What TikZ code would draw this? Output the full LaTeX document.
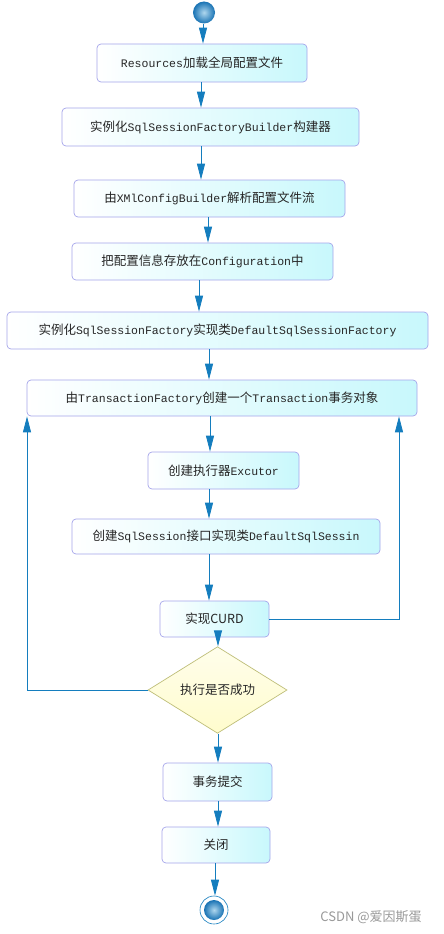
\documentclass[tikz,border=0pt]{standalone}
\usepackage{fontspec}
\setmainfont{Noto Sans CJK SC}
\newfontfamily\monofnt{Liberation Mono}
\newcommand\mono[1]{{\monofnt\fontsize{11.5}{13}\selectfont #1}}
\usetikzlibrary{arrows.meta,shapes.geometric,shadings}
\definecolor{cyanfill}{RGB}{200,248,252}
\definecolor{boxline}{RGB}{165,165,235}
\definecolor{arrowblue}{RGB}{20,125,190}
\definecolor{dfill}{RGB}{255,252,205}
\definecolor{dline}{RGB}{190,190,120}
\definecolor{ballin}{RGB}{175,215,238}
\definecolor{ballout}{RGB}{25,115,180}
\begin{document}
\begin{tikzpicture}[x=1pt,y=-1pt,
  box/.style={draw=boxline, rounded corners=4pt, line width=0.7pt,
    left color=white, right color=cyanfill, inner sep=0pt, anchor=center,
    font=\fontsize{12.5}{14}\selectfont, text=black!85},
  dia/.style={diamond, draw=dline, line width=0.7pt, top color=dfill!40!white,
    bottom color=dfill, inner sep=0pt, minimum width=139pt, minimum height=54pt,
    font=\fontsize{12.5}{14}\selectfont, text=black!85},
  ball/.style={circle, inner sep=0pt, inner color=ballin, outer color=ballout},
  arr/.style={draw=arrowblue, line width=0.8pt,
    -{Triangle[width=8pt,length=16pt,fill=arrowblue]}},
  link/.style={draw=arrowblue, line width=0.8pt}]
\useasboundingbox (0,0) rectangle (444,934);
\fill[white] (0,0) rectangle (444,934);

% start
\node[ball, minimum size=22pt] (start) at (204,12.5) {};

\node[box, minimum width=210pt, minimum height=38pt] (b1) at (202,63) {\mono{Resources}加载全局配置文件};
\node[box, minimum width=297pt, minimum height=38pt] (b2) at (210.5,127) {实例化\mono{SqlSessionFactoryBuilder}构建器};
\node[box, minimum width=271pt, minimum height=37pt] (b3) at (209.5,198.5) {由\mono{XMlConfigBuilder}解析配置文件流};
\node[box, minimum width=261pt, minimum height=37pt] (b4) at (202.5,261.5) {把配置信息存放在\mono{Configuration}中};
\node[box, minimum width=421pt, minimum height=37pt] (b5) at (217.5,330.5) {实例化\mono{SqlSessionFactory}实现类\mono{DefaultSqlSessionFactory}};
\node[box, minimum width=390pt, minimum height=36pt] (b6) at (222,398) {由\mono{TransactionFactory}创建一个\mono{Transaction}事务对象};
\node[box, minimum width=151pt, minimum height=37pt] (b7) at (223.5,470.5) {创建执行器\mono{Excutor}};
\node[box, minimum width=308pt, minimum height=35pt] (b8) at (226,536.5) {创建\mono{SqlSession}接口实现类\mono{DefaultSqlSessin}};
\node[box, minimum width=109pt, minimum height=36pt] (b9) at (214.5,619) {实现CURD};
\node[dia] (d) at (217.5,690) {执行是否成功};
\node[box, minimum width=109pt, minimum height=38pt] (b10) at (217.5,782) {事务提交};
\node[box, minimum width=108pt, minimum height=36pt] (b11) at (216,845) {关闭};

% end
\node[circle, minimum size=28pt, inner sep=0pt, draw=arrowblue, line width=0.6pt, fill=white] (endo) at (214,910) {};
\node[ball, minimum size=20pt] (endi) at (214,910) {};

% x positions of connectors
\coordinate (x0) at (203,0);
\coordinate (x1) at (201,0);
\coordinate (x3) at (208,0);
\coordinate (x4) at (199,0);
\coordinate (x5) at (209,0);
\coordinate (x6) at (210,0);
\coordinate (x9) at (218,0);
\coordinate (x12) at (215,0);
\coordinate (rx) at (399,0);
\coordinate (lx) at (27,0);

\draw[arr] (start.south -| x0) -- (b1.north -| x0);
\draw[arr] (b1.south -| x1) -- (b2.north -| x1);
\draw[arr] (b2.south -| x1) -- (b3.north -| x1);
\draw[arr] (b3.south -| x3) -- (b4.north -| x3);
\draw[arr] (b4.south -| x4) -- (b5.north -| x4);
\draw[arr] (b5.south -| x5) -- (b6.north -| x5);
\draw[arr] (b6.south -| x6) -- (b7.north -| x6);
\draw[arr] (b7.south -| x5) -- (b8.north -| x5);
\draw[arr] (b8.south -| x5) -- (b9.north -| x5);
\draw[arr] (b9.south -| x9) -- (d.north -| x9);
\draw[arr] (d.south -| x9) -- (b10.north -| x9);
\draw[arr] (b10.south -| x9) -- (b11.north -| x9);
\draw[arr] (b11.south -| x12) -- (endo.north -| x12);

% loops
\draw[arr] (b9.east) -| (b6.south -| rx);
\draw[arr] (d.west) -| (b6.south -| lx);

% watermark
\node[text=black!40, font=\fontsize{13}{15}\selectfont, anchor=center] (wm) at (371,917) {CSDN @爱因斯蛋};
\end{tikzpicture}
\end{document}
